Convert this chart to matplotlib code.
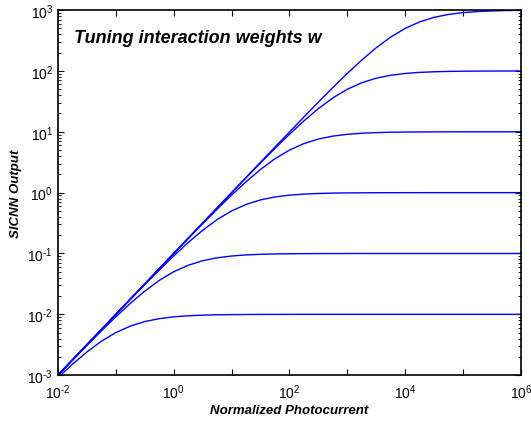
import numpy as np
import matplotlib
matplotlib.use('Agg')
import matplotlib.pyplot as plt
from matplotlib.ticker import LogLocator, FixedLocator, NullLocator, FuncFormatter

plt.rcParams['font.family'] = ['Liberation Sans', 'DejaVu Sans']
plt.rcParams['mathtext.fontset'] = 'custom'
plt.rcParams['mathtext.rm'] = 'Liberation Sans'
plt.rcParams['mathtext.it'] = 'Liberation Sans:italic'
plt.rcParams['mathtext.bf'] = 'Liberation Sans:bold'

# photocurrent samples (quarter-decade steps)
photocurrent = [1e-2, 1.78e-2, 3.16e-2, 5.62e-2, 1e-1, 1.78e-1, 3.16e-1, 5.62e-1,
                1e0, 1.78e0, 3.16e0, 5.62e0, 1e1, 1.78e1, 3.16e1, 5.62e1,
                1e2, 1.78e2, 3.16e2, 5.62e2, 1e3, 1.78e3, 3.16e3, 5.62e3,
                1e4, 1.78e4, 3.16e4, 5.62e4, 1e5, 1.78e5, 3.16e5, 5.62e5, 1e6]

# SICNN output, one curve per interaction weight (saturation level)
out_w1 = [0.000909, 0.00151, 0.00240, 0.00360, 0.0050, 0.0064, 0.0076, 0.00849,
          0.00909, 0.00947, 0.00969, 0.00983, 0.0099, 0.00994, 0.00997, 0.00998,
          0.00999] + [0.01] * 16
out_w2 = [0.00099, 0.00175, 0.00307, 0.00532, 0.00909, 0.0151, 0.0240, 0.0360,
          0.050, 0.064, 0.076, 0.0849, 0.0909, 0.0947, 0.0969, 0.0983,
          0.099, 0.0994, 0.0997, 0.0998, 0.0999] + [0.1] * 12
out_w3 = [0.001, 0.00178, 0.00315, 0.00559, 0.0099, 0.0175, 0.0307, 0.0532,
          0.0909, 0.151, 0.240, 0.360, 0.50, 0.64, 0.76, 0.849,
          0.909, 0.947, 0.969, 0.983, 0.990, 0.994, 0.997, 0.998,
          0.999] + [1.0] * 8
out_w4 = [0.001, 0.00178, 0.00316, 0.00562, 0.00999, 0.01775, 0.0315, 0.0559,
          0.099, 0.175, 0.307, 0.532, 0.909, 1.51, 2.40, 3.60,
          5.0, 6.4, 7.6, 8.49, 9.09, 9.47, 9.69, 9.83,
          9.90, 9.94, 9.97, 9.98, 9.99] + [10.0] * 4
out_w5 = [0.001, 0.00178, 0.00316, 0.00562, 0.01, 0.0178, 0.0316, 0.0562,
          0.0999, 0.1775, 0.315, 0.559, 0.99, 1.75, 3.07, 5.32,
          9.09, 15.1, 24.0, 36.0, 50.0, 64.0, 76.0, 84.9,
          90.9, 94.7, 96.9, 98.3, 99.0, 99.4, 99.7, 99.8, 99.9]
out_w6 = [0.001, 0.00178, 0.00316, 0.00562, 0.01, 0.0178, 0.0316, 0.0562,
          0.1, 0.178, 0.316, 0.562, 0.999, 1.775, 3.15, 5.59,
          9.9, 17.5, 30.7, 53.2, 90.9, 151.0, 240.0, 360.0,
          500.0, 640.0, 760.0, 849.0, 909.0, 947.0, 969.0, 983.0, 990.0]

curves = [out_w1, out_w2, out_w3, out_w4, out_w5, out_w6]

fig = plt.figure(figsize=(5.31, 4.27), dpi=100)
ax = fig.add_axes([0.109, 0.119, 0.872, 0.855])

for c in curves:
    ax.plot(photocurrent, c, color='#0000ff', linewidth=1.0)

ax.set_xscale('log')
ax.set_yscale('log')
ax.set_xlim(1e-2, 1e6)
ax.set_ylim(1e-3, 1e3)

def dec_label(k):
    if k < 0:
        return r'$10^{\text{-}%d}$' % (-k)
    return r'$10^{%d}$' % k

# x: ticks every decade, labels every other decade
ax.xaxis.set_major_locator(FixedLocator([10.0 ** k for k in range(-2, 7)]))
ax.xaxis.set_minor_locator(NullLocator())
def xfmt(v, pos):
    k = int(round(np.log10(v)))
    return dec_label(k) if k % 2 == 0 else ''
ax.xaxis.set_major_formatter(FuncFormatter(xfmt))

ax.yaxis.set_major_locator(FixedLocator([10.0 ** k for k in range(-3, 4)]))
ax.yaxis.set_minor_locator(LogLocator(base=10, subs=np.arange(2, 10), numticks=20))
ax.yaxis.set_major_formatter(FuncFormatter(lambda v, p: dec_label(int(round(np.log10(v))))))

ax.tick_params(which='both', direction='in', top=True, right=True, labelsize=10)
ax.tick_params(which='major', length=4, width=0.8)
ax.tick_params(which='minor', length=2, width=0.6)
ax.tick_params(axis='x', pad=5)
for sp in ax.spines.values():
    sp.set_linewidth(1.2)

ax.set_xlabel('Normalized Photocurrent', fontsize=9.5, fontweight='bold', style='italic', labelpad=2)
ax.set_ylabel('SICNN Output', fontsize=9.5, fontweight='bold', style='italic', labelpad=4)

ax.text(0.035, 0.912, 'Tuning interaction weights w', transform=ax.transAxes,
        fontsize=13, fontweight='bold', style='italic', va='baseline')

fig.savefig('out.png', dpi=100)
